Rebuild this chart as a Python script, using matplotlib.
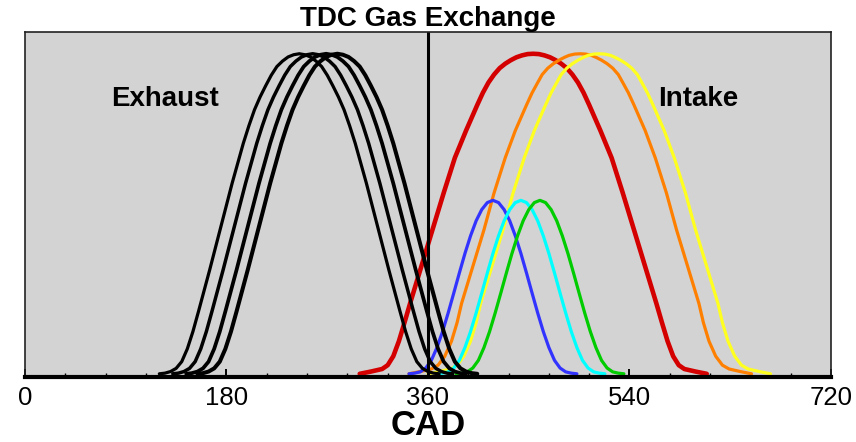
import matplotlib
matplotlib.use("Agg")
import matplotlib.pyplot as plt
from matplotlib.ticker import MultipleLocator

plt.rcParams['font.family'] = ['Liberation Sans', 'DejaVu Sans']

# valve lift (mm) against crank angle (deg)
EXH_LIFT = [0, 0.02, 0.07, 0.17, 0.38, 0.78, 1.32, 1.95, 3.25, 4.6, 5.95, 7.2, 7.75, 8.25, 8.65, 9.0,
            9.33, 9.6, 9.77, 9.9, 9.97,
            10,
            9.97, 9.9, 9.77, 9.6, 9.33, 9.0, 8.65, 8.25, 7.75, 7.2, 5.95, 4.6, 3.25, 1.95, 1.32,
            0.78, 0.38, 0.17, 0.07, 0.02, 0]
exh_1 = [120, 125, 130, 135, 140, 145, 150, 155, 165, 175, 185, 195, 200, 205, 210, 215, 220,
         225, 230, 235, 240, 245, 250, 255, 260, 265, 270, 275, 280, 285, 290, 295, 305, 315,
         325, 335, 340, 345, 350, 355, 360, 365, 370]
exh_2 = [132, 137, 142, 147, 152, 157, 162, 167, 177, 187, 197, 207, 212, 217, 222, 227, 232,
         237, 242, 247, 252, 257, 262, 267, 272, 277, 282, 287, 292, 297, 302, 307, 317, 327,
         337, 347, 352, 357, 362, 367, 372, 377, 382]
exh_3 = [144, 149, 154, 159, 164, 169, 174, 179, 189, 199, 209, 219, 224, 229, 234, 239, 244,
         249, 254, 259, 264, 269, 274, 279, 284, 289, 294, 299, 304, 309, 314, 319, 329, 339,
         349, 359, 364, 369, 374, 379, 384, 389, 394]
exh_4 = [154, 159, 164, 169, 174, 179, 184, 189, 199, 209, 219, 229, 234, 239, 244, 249, 254,
         259, 264, 269, 274, 279, 284, 289, 294, 299, 304, 309, 314, 319, 324, 329, 339, 349,
         359, 369, 374, 379, 384, 389, 394, 399, 404]

INT_LIFT = [0, 0.07, 0.15, 0.27, 0.55, 1.02, 1.6, 2.2, 3.35, 4.5, 5.65, 6.75, 7.6, 8.4, 8.78, 9.1,
            9.35, 9.55, 9.69, 9.8, 9.89, 9.95, 9.99,
            10,
            9.99, 9.95, 9.89, 9.8, 9.69, 9.55, 9.35, 9.1, 8.78, 8.4, 7.6, 6.75, 5.65, 4.5, 3.35,
            2.2, 1.6, 1.02, 0.55, 0.27, 0.15, 0.07, 0]
int_red = [299, 309, 319, 324, 329, 334, 339, 344, 354, 364, 374, 384, 394, 404, 409, 414, 419,
           424, 429, 434, 439, 444, 449, 454, 459, 464, 469, 474, 479, 484, 489, 494, 499, 504,
           514, 524, 534, 544, 554, 564, 569, 574, 579, 584, 589, 599, 609]
int_orange = [343, 353, 363, 369, 375, 381, 386, 390, 400, 410, 419, 429, 438, 448, 453, 458,
              462, 467, 472, 477, 482, 486, 491, 496, 501, 506, 510, 515, 520, 525, 530, 534,
              539, 544, 554, 563, 573, 582, 592, 602, 606, 611, 617, 623, 629, 639, 649]
int_yellow = [360, 370, 380, 386, 392, 398, 403, 407, 417, 427, 436, 446, 455, 465, 470, 475,
              479, 484, 489, 494, 499, 503, 508, 513, 518, 523, 527, 532, 537, 542, 547, 551,
              556, 561, 571, 580, 590, 599, 609, 619, 623, 628, 634, 640, 646, 656, 666]

SMALL_LIFT = [0, 0.02, 0.06, 0.18, 0.42, 0.82, 1.32, 1.90, 2.52, 3.15, 3.76, 4.31, 4.78, 5.13, 5.35,
              5.42,
              5.35, 5.13, 4.78, 4.31, 3.76, 3.15, 2.52, 1.90, 1.32, 0.82, 0.42, 0.18, 0.06, 0.02, 0]
int_blue = [343, 348, 353, 358, 363, 368, 373, 378, 383, 388, 393, 398, 403, 408, 413, 418,
            423, 428, 433, 438, 443, 448, 453, 458, 463, 468, 473, 478, 483, 488, 493]
int_cyan = [368, 373, 378, 383, 388, 393, 398, 403, 408, 413, 418, 423, 428, 433, 438, 443,
            448, 453, 458, 463, 468, 473, 478, 483, 488, 493, 498, 503, 508, 513, 518]
int_green = [385, 390, 395, 400, 405, 410, 415, 420, 425, 430, 435, 440, 445, 450, 455, 460,
             465, 470, 475, 480, 485, 490, 495, 500, 505, 510, 515, 520, 525, 530, 535]

fig = plt.figure(figsize=(8.56, 4.42), dpi=100)
ax = fig.add_axes([25 / 856, 1 - 377 / 442, 806 / 856, 345 / 442])
ax.set_facecolor('#d3d3d3')

kw = dict(solid_joinstyle='round', solid_capstyle='round')
ax.plot(int_red, INT_LIFT, color='#d40000', lw=3.3, **kw)
ax.plot(int_orange, INT_LIFT, color='#ff8000', lw=2.3, **kw)
ax.plot(int_yellow, INT_LIFT, color='#ffff20', lw=2.3, **kw)
ax.plot(int_blue, SMALL_LIFT, color='#3333ff', lw=2.3, **kw)
ax.plot(int_cyan, SMALL_LIFT, color='#00ffff', lw=2.3, **kw)
ax.plot(int_green, SMALL_LIFT, color='#00cc00', lw=2.3, **kw)
for a, w in zip([exh_1, exh_2, exh_3, exh_4], [2.3, 2.5, 2.7, 2.9]):
    ax.plot(a, EXH_LIFT, color='black', lw=w, **kw)

ax.axvline(360, color='black', lw=2.2)

ax.text(77, 8.6, 'Exhaust', fontsize=20, fontweight='bold', va='center')
ax.text(566, 8.6, 'Intake', fontsize=20, fontweight='bold', va='center')

ax.set_xlim(0, 720)
ax.set_ylim(-0.1, 10.68)
ax.xaxis.set_major_locator(MultipleLocator(180))
ax.xaxis.set_minor_locator(MultipleLocator(36))
ax.set_yticks([])
ax.tick_params(axis='x', which='major', direction='in', length=6, width=1.4,
               labelsize=18.5, pad=6.5)
ax.tick_params(axis='x', which='minor', direction='in', length=3, width=1.0)

ax.spines['bottom'].set_linewidth(3)
for s in ['top', 'left', 'right']:
    ax.spines[s].set_linewidth(1.2)
    ax.spines[s].set_color('#222222')

ax.set_title('TDC Gas Exchange', fontsize=20, fontweight='bold', pad=3)
ax.set_xlabel('CAD', fontsize=25, fontweight='bold', labelpad=-0.5)

fig.savefig('out.png', dpi=100)
